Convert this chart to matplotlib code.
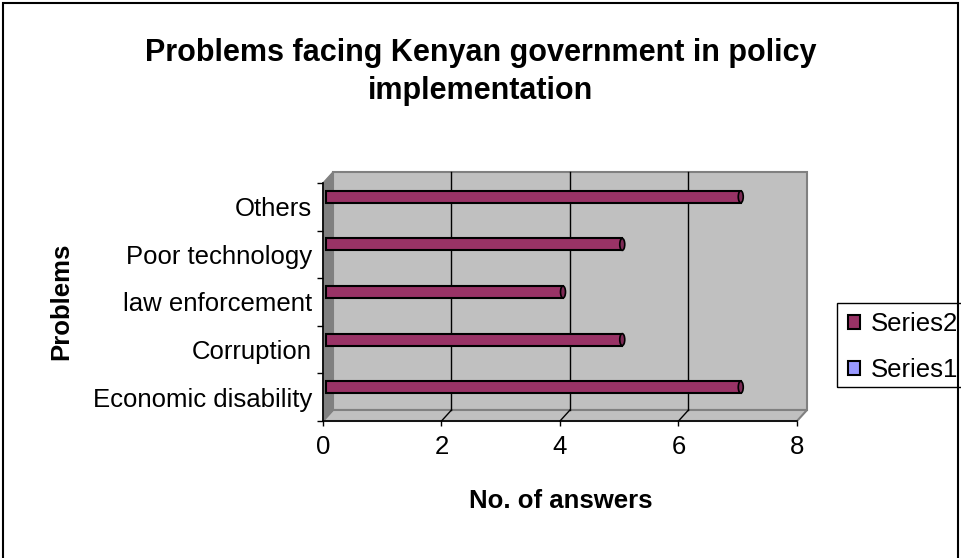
import matplotlib
matplotlib.use('Agg')
import matplotlib.pyplot as plt
from matplotlib.patches import Rectangle, Polygon, Ellipse, Patch
from matplotlib.lines import Line2D
from matplotlib.transforms import ScaledTranslation, IdentityTransform

categories = ["Economic disability", "Corruption", "law enforcement", "Poor technology", "Others"]
series2 = [7, 5, 4, 5, 7]
x_ticks = [0, 2, 4, 6, 8]
legend_labels = ["Series2", "Series1"]
legend_colors = ["#993366", "#9999FF"]
title = "Problems facing Kenyan government in policy\nimplementation"
xlabel = "No. of answers"
ylabel = "Problems"

plt.rcParams['font.family'] = ['Liberation Sans', 'DejaVu Sans']

W, H = 962, 558
fig = plt.figure(figsize=(W / 100, H / 100), dpi=100)
fig.patch.set_facecolor('white')
ax = fig.add_axes([323 / W, 1 - 421 / H, 474 / W, 238 / H])
ax.set_xlim(0, 8)
ax.set_ylim(0, 5)
ax.patch.set_visible(False)

DX, DY = 10, 11


def P(x, y, f=0.0):
    px, py = ax.transData.transform((x, y))
    return (px + DX * f, py + DY * f)


ident = IdentityTransform()
# back wall
ax.add_artist(Polygon([P(0, 0, 1), P(8, 0, 1), P(8, 5, 1), P(0, 5, 1)], closed=True,
                      transform=ident, fc='#C0C0C0', ec='#808080', lw=1.5, zorder=0.1, clip_on=False))
# floor
ax.add_artist(Polygon([P(0, 0, 0), P(8, 0, 0), P(8, 0, 1), P(0, 0, 1)], closed=True,
                      transform=ident, fc='#C0C0C0', ec='#808080', lw=1.5, zorder=0.2, clip_on=False))
# left wall
ax.add_artist(Polygon([P(0, 0, 0), P(0, 0, 1), P(0, 5, 1), P(0, 5, 0)], closed=True,
                      transform=ident, fc='#808080', ec='#808080', lw=1.0, zorder=0.3, clip_on=False))
# gridlines on back wall and floor
for v in x_ticks[1:-1]:
    a, b = P(v, 0, 1), P(v, 5, 1)
    ax.add_artist(Line2D([a[0], b[0]], [a[1], b[1]], transform=ident, color='black', lw=1.0,
                         zorder=0.4, clip_on=False))
    c = P(v, 0, 0)
    ax.add_artist(Line2D([c[0], a[0]], [c[1], a[1]], transform=ident, color='black', lw=1.0,
                         zorder=0.4, clip_on=False))

# bars
offset = ax.transData + ScaledTranslation(3 / 100, 10 / 100, fig.dpi_scale_trans)
ypos = [i + 0.5 for i in range(len(categories))]
bh = 0.25
bars = ax.barh(ypos, series2, height=bh, left=0, color='#993366', edgecolor='black', lw=1.5, zorder=2)
for r in bars:
    r.set_transform(offset)
    r.set_clip_on(False)
cap_w = 5 / 59.25
for yv, v in zip(ypos, series2):
    ax.add_artist(Ellipse((v, yv), width=cap_w, height=bh, transform=offset, fc='#7d2a55',
                          ec='black', lw=1.2, zorder=2.1, clip_on=False))

# spines
for s in ['top', 'right']:
    ax.spines[s].set_visible(False)
for s in ['left', 'bottom']:
    ax.spines[s].set_color('black')
    ax.spines[s].set_linewidth(1.2)
    ax.spines[s].set_zorder(3)

ax.set_xticks(x_ticks)
ax.set_xticklabels([str(t) for t in x_ticks])
ax.tick_params(axis='x', length=3.6, width=1, pad=6.5, labelsize=18.5, color='black')
ax.set_yticks(range(len(categories) + 1))
ax.set_yticklabels([''] * (len(categories) + 1))
ax.tick_params(axis='y', which='major', length=4.3, width=1, color='black')
ax.set_yticks(ypos, minor=True)
ax.set_yticklabels(categories, minor=True)
ax.tick_params(axis='y', which='minor', length=0, pad=8, labelsize=18.5)

# texts
fig.text(481 / W, 1 - 72 / H, title, ha='center', va='center', fontsize=22, fontweight='bold',
         linespacing=1.32, multialignment='center')
fig.text(561 / W, 1 - 501 / H, xlabel, ha='center', va='center', fontsize=18.5, fontweight='bold')
fig.text(61 / W, 1 - 301 / H, ylabel, ha='center', va='center', fontsize=18.5, fontweight='bold',
         rotation=90)

# outer border
fig.add_artist(Rectangle((3 / W, -0.05), (958 - 3) / W, 1.05 - 3 / H, transform=fig.transFigure,
                         fill=False, ec='black', lw=1.5))
# legend frame
fig.add_artist(Rectangle((837 / W, 1 - 387 / H), 140 / W, 84 / H, transform=fig.transFigure,
                         fill=False, ec='black', lw=1.0))
handles = [Patch(fc=c, ec='black', lw=1.5) for c in legend_colors]
fig.legend(handles=handles, labels=legend_labels, loc='upper left',
           bbox_to_anchor=(843 / W, 1 - 307 / H), frameon=False, fontsize=18.5,
           handlelength=0.45, handleheight=0.45, handletextpad=0.45, labelspacing=0.85,
           borderpad=0.2, borderaxespad=0)

fig.savefig('out.png', dpi=100)
